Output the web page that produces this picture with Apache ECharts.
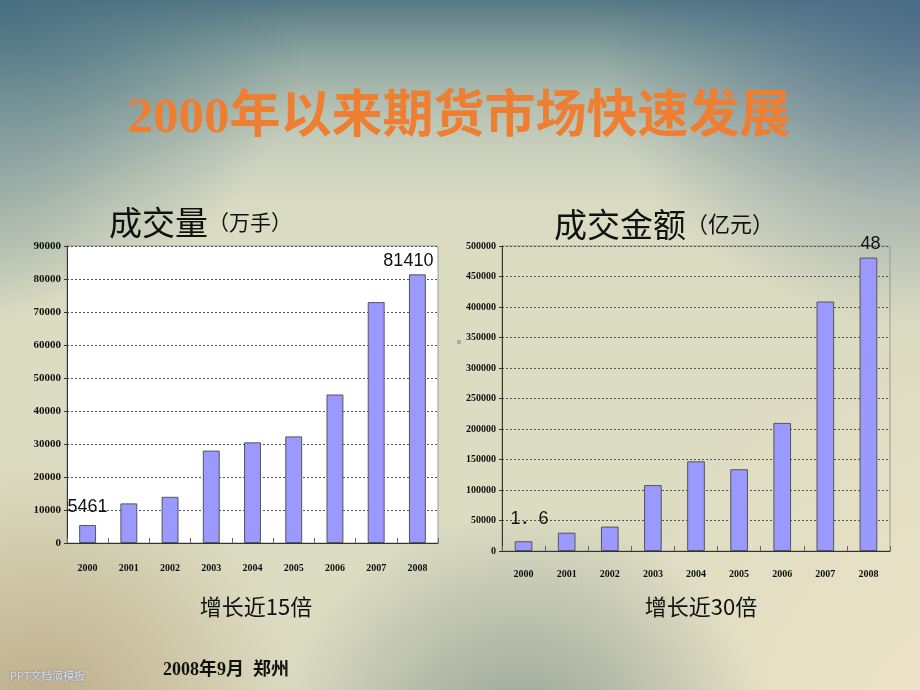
<!DOCTYPE html>
<html><head><meta charset="utf-8">
<script src="https://cdn.jsdelivr.net/npm/echarts@6/dist/echarts.min.js"></script>
<style>html,body{margin:0;padding:0;background:#dcdcc2;}#c{width:920px;height:690px;}</style>
</head><body><div id="c"></div>
<script>
// ---- data ----
const years = ['2000', '2001', '2002', '2003', '2004', '2005', '2006', '2007', '2008'];
const volume = [5461, 12000, 14000, 28000, 30500, 32300, 45000, 73000, 81410];      // 万手
const turnover = [16000, 30000, 40000, 108000, 147000, 134000, 210000, 409000, 481000]; // 亿元
const volumeNotes = ['5461', '', '', '', '', '', '', '', '81410'];
const turnoverNotes = ['1．6', '', '', '', '', '', '', '', '48'];
const volumeAxisMax = 90000, volumeAxisStep = 10000;
const turnoverAxisMax = 500000, turnoverAxisStep = 50000;
const mainTitle = '2000年以来期货市场快速发展';
const leftTitle = ['成交量', '（万手）'];
const rightTitle = ['成交金额', '（亿元）'];
const leftNote = '增长近15倍';
const rightNote = '增长近30倍';
const footer = '2008年9月  郑州';
const watermark = 'PPT文档演模板';

const chart = echarts.init(document.getElementById('c'), null, {renderer: 'canvas'});
const G = echarts.graphic;
const W = 920, H = 690;

function bg(fill) { return {type: 'rect', shape: {x: 0, y: 0, width: W, height: H}, style: {fill: fill}, silent: true, z: -100}; }
function rg(x, y, r, c) {
  return new G.RadialGradient(x, y, r, [{offset: 0, color: c}, {offset: 1, color: c.replace(/[\d.]+\)$/, '0)')}], true);
}

const labelStyles = {
  left: {0: {distance: 9, offset: [0, 0]}, 8: {distance: 4, offset: [-9, 0]}},
  right: {0: {distance: 13, offset: [6, 0]}, 8: {distance: 5, offset: [2, 0]}}
};
function items(vals, notes, side) {
  return vals.map((v, i) => {
    if (!notes[i]) return {value: v};
    const s = labelStyles[side][i] || {distance: 5, offset: [0, 0]};
    return {value: v, label: {show: true, position: 'top', formatter: notes[i], distance: s.distance, offset: s.offset,
      fontSize: 18, fontFamily: 'Liberation Sans, Noto Sans CJK SC, sans-serif', color: '#111'}};
  });
}

const yLabel = (fs) => ({fontFamily: 'Liberation Serif, serif', fontWeight: 'bold', fontSize: fs, color: '#111', margin: 6,
  formatter: (v) => String(v)});
const xLabel = {fontFamily: 'Liberation Serif, serif', fontWeight: 'bold', fontSize: 10, color: '#111'};
const splitLine = {show: true, lineStyle: {type: [2, 2], color: '#555', width: 1}};
const barStyle = {color: '#9999FF', borderColor: '#555', borderWidth: 1};

const option = {
  animation: false,
  backgroundColor: 'transparent',
  graphic: {elements: [
    bg('#dcdcc2'),
    bg(new G.LinearGradient(0, 0, 0, H, [
      {offset: 0, color: 'rgba(85,120,132,1)'},
      {offset: 0.1, color: 'rgba(130,158,156,0.75)'},
      {offset: 0.3, color: 'rgba(200,210,195,0.15)'},
      {offset: 0.45, color: 'rgba(222,223,202,0)'}], true)),
    bg(rg(0, 0, 310, 'rgba(70,110,128,0.85)')),
    bg(rg(920, 0, 330, 'rgba(72,105,135,0.85)')),
    bg(rg(-60, 180, 170, 'rgba(120,148,150,0.35)')),
    bg(rg(960, 720, 380, 'rgba(240,228,198,0.95)')),
    bg(rg(520, 760, 250, 'rgba(128,142,136,0.8)')),
    bg(rg(40, 720, 260, 'rgba(185,166,128,0.9)')),
    {type: 'rect', shape: {x: 457, y: 340, width: 4, height: 4}, style: {fill: '#aaa'}, silent: true},
    {type: 'text', x: 459, y: 119, style: {text: mainTitle, fontSize: 51, fontWeight: 'bold',
      fontFamily: 'Liberation Serif, Noto Sans CJK SC, serif', fill: '#EE7E32', align: 'center', verticalAlign: 'middle'}},
    {type: 'text', x: 109, y: 222, style: {rich: {a: {fontSize: 33, fontFamily: 'Noto Sans CJK SC', fill: '#111'}, b: {fontSize: 21, fontFamily: 'Noto Sans CJK SC', fill: '#111'}},
      text: '{a|' + leftTitle[0] + '}{b|' + leftTitle[1] + '}', verticalAlign: 'middle'}},
    {type: 'text', x: 554, y: 224, style: {rich: {a: {fontSize: 33, fontFamily: 'Noto Sans CJK SC', fill: '#111'}, b: {fontSize: 22, fontFamily: 'Noto Sans CJK SC', fill: '#111'}},
      text: '{a|' + rightTitle[0] + '}{b|' + rightTitle[1] + '}', verticalAlign: 'middle'}},
    {type: 'text', x: 256, y: 607, style: {text: leftNote, fontSize: 22, fontFamily: 'Noto Sans CJK SC', fill: '#111', align: 'center', verticalAlign: 'middle'}},
    {type: 'text', x: 701, y: 607, style: {text: rightNote, fontSize: 22, fontFamily: 'Noto Sans CJK SC', fill: '#111', align: 'center', verticalAlign: 'middle'}},
    {type: 'text', x: 163, y: 670, style: {text: footer, fontSize: 18, fontWeight: 'bold', fontFamily: 'Liberation Serif, Noto Sans CJK SC, serif', fill: '#111', verticalAlign: 'middle'}},
    {type: 'text', x: 10, y: 676, style: {text: watermark, fontSize: 11, fontFamily: 'Noto Sans CJK SC', fill: '#d8e0f0', verticalAlign: 'middle',
      textShadowColor: 'rgba(60,80,110,0.8)', textShadowBlur: 2}}
  ]},
  grid: [
    {left: 67, right: 482, top: 246, bottom: 147, show: true, backgroundColor: '#ffffff', borderColor: '#999', borderWidth: 1},
    {left: 502, right: 30, top: 246, bottom: 139, show: true, backgroundColor: 'transparent', borderColor: '#999', borderWidth: 1}
  ],
  xAxis: [
    {type: 'category', gridIndex: 0, data: years, axisLine: {lineStyle: {color: '#333'}},
      axisTick: {show: true, inside: true, length: 5, lineStyle: {color: '#666'}}, axisLabel: Object.assign({margin: 20}, xLabel)},
    {type: 'category', gridIndex: 1, data: years, axisLine: {lineStyle: {color: '#333'}},
      axisTick: {show: true, inside: true, length: 5, lineStyle: {color: '#666'}}, axisLabel: Object.assign({margin: 18}, xLabel)}
  ],
  yAxis: [
    {type: 'value', gridIndex: 0, min: 0, max: volumeAxisMax, interval: volumeAxisStep,
      axisLine: {show: true, lineStyle: {color: '#333'}}, axisTick: {show: true, length: 3, lineStyle: {color: '#333'}},
      axisLabel: yLabel(11), splitLine: splitLine},
    {type: 'value', gridIndex: 1, min: 0, max: turnoverAxisMax, interval: turnoverAxisStep,
      axisLine: {show: true, lineStyle: {color: '#333'}}, axisTick: {show: true, length: 3, lineStyle: {color: '#333'}},
      axisLabel: yLabel(10), splitLine: splitLine}
  ],
  series: [
    {type: 'bar', xAxisIndex: 0, yAxisIndex: 0, data: items(volume, volumeNotes, 'left'), barWidth: '41%', itemStyle: barStyle},
    {type: 'bar', xAxisIndex: 1, yAxisIndex: 1, data: items(turnover, turnoverNotes, 'right'), barWidth: '41%', itemStyle: barStyle}
  ]
};
chart.setOption(option);
</script>
</body></html>
